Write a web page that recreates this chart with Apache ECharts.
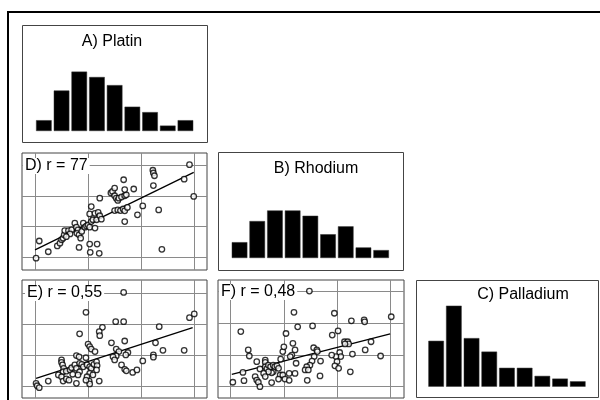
<!DOCTYPE html>
<html>
<head>
<meta charset="utf-8">
<script src="https://cdn.jsdelivr.net/npm/echarts@6/dist/echarts.min.js"></script>
<style>html,body{margin:0;padding:0;background:#fff;}#c{width:600px;height:400px;}</style>
</head>
<body>
<div id="c"></div>
<script>
// ---- data ----
const histCats = ['1','2','3','4','5','6','7','8','9'];
const platinCounts = [4, 15, 22, 20, 17, 9, 7, 2, 4];
const rhodiumCounts = [6, 14, 18, 18, 16, 9, 12, 4, 3];
const palladiumCounts = [17, 30, 18, 13, 7, 7, 4, 3, 2];
const gridTicks = [0, 10, 20, 30];
const panelTitles = ['A) Platin', 'B) Rhodium', 'C) Palladium'];
const rLabels = ['D) r = 77', 'E) r = 0,55', 'F) r = 0,48'];

// D: Platin (x) vs Rhodium (y)
const platinRhodium = [
[0.2,-0.3],[0.8,5.3],[2.5,1.8],[4.2,3.7],[4.7,4.6],[5.0,5.7],[5.3,6.2],[5.5,7.3],[5.6,8.7],[6.3,8.7],
[6.9,8.9],[6.6,7.6],[5.9,6.7],[7.5,11.1],[7.8,9.8],[8.1,8.9],[7.9,7.8],[8.3,7.3],[8.8,8.4],[8.6,6.2],
[8.3,3.2],[9.1,11.1],[9.4,9.8],[9.7,10.2],[10.0,10.5],[10.3,9.8],[10.6,11.6],[10.9,12.2],[11.3,9.5],[11.6,12.2],
[10.3,14.1],[10.6,16.5],[11.3,14.3],[11.9,14.6],[12.2,13.5],[12.5,12.4],[10.3,4.3],[10.4,1.6],[11.7,4.3],[12.1,1.3],
[12.2,19.2],[14.3,20.9],[14.6,21.4],[15.0,20.0],[15.3,19.2],[15.6,18.5],[15.0,22.5],[15.8,19.2],[16.3,19.6],[16.9,20.0],
[17.2,20.3],[16.9,22.0],[16.7,25.2],[18.6,22.2],[15.0,15.2],[15.6,15.4],[16.1,15.2],[16.6,15.7],[16.9,15.1],[17.4,16.2],
[16.9,11.6],[19.3,13.8],[20.3,16.7],[23.3,15.4],[22.2,28.3],[22.3,27.4],[22.5,26.5],[22.3,23.3],[23.9,2.6],[28.1,25.4],
[29.1,30.1],[29.9,19.8]
];
// E: Platin (x) vs Palladium (y)
const platinPalladium = [
[16.7,30.3],[9.6,23.9],[15.2,20.9],[16.7,20.9],[12.7,19.1],[12.1,17.7],[12.2,16.4],[8.4,17.0],[23.4,19.3],[29.1,22.2],
[30.0,23.4],[14.4,14.1],[16.9,14.7],[10.0,13.7],[10.3,12.9],[10.6,12.1],[11.3,11.3],[15.3,12.1],[15.8,11.3],[17.5,11.0],
[17.1,10.2],[15.3,9.9],[14.7,9.6],[15.0,8.6],[7.8,10.0],[8.3,9.6],[9.6,9.3],[22.7,14.1],[24.1,11.7],[22.3,10.2],
[22.3,9.5],[20.3,8.3],[28.1,11.7],[5.0,8.6],[5.0,7.8],[5.2,7.0],[5.4,5.9],[5.3,4.8],[5.9,5.0],[6.6,5.4],
[6.9,6.1],[7.5,7.0],[7.8,5.9],[8.4,7.5],[8.8,7.2],[9.1,6.4],[8.4,4.8],[8.1,3.8],[9.8,7.0],[10.3,6.4],
[10.6,5.9],[11.1,7.2],[11.6,8.0],[11.7,6.8],[11.6,5.4],[10.3,4.3],[10.9,3.8],[9.8,3.2],[10.2,1.8],[10.3,0.9],
[9.6,2.1],[12.1,1.8],[7.8,1.1],[4.4,3.8],[5.0,3.2],[5.3,1.8],[5.9,2.5],[6.4,2.1],[7.1,4.0],[2.5,1.8],
[0.2,1.1],[0.4,0.3],[0.8,-0.3],[16.3,7.0],[16.9,5.6],[17.2,5.1],[18.4,4.6],[19.2,5.4]
];
// F: Rhodium (x) vs Palladium (y)
const rhodiumPalladium = [
[14.8,30.2],[11.9,23.5],[19.5,23.2],[22.7,20.8],[25.1,21.1],[25.2,20.5],[30.2,22.1],[12.6,18.9],[15.4,19.2],[1.9,17.4],
[10.4,16.8],[20.2,17.6],[19.1,16.3],[3.3,11.6],[3.5,9.7],[9.8,11.1],[10.0,12.6],[11.7,13.7],[12.1,11.6],[11.5,10.0],
[11.2,9.5],[12.3,7.4],[9.4,8.7],[15.6,12.3],[16.2,11.6],[16.3,11.1],[15.7,9.5],[16.9,8.1],[15.3,8.1],[14.9,6.8],
[14.3,6.3],[14.0,5.3],[14.6,5.3],[21.4,14.2],[22.0,14.2],[22.2,13.5],[21.5,13.5],[26.4,14.2],[25.3,11.6],[22.9,10.3],
[20.5,10.8],[20.7,9.5],[19.8,9.5],[19.0,10.0],[20.0,7.9],[19.6,6.6],[20.3,5.8],[22.5,4.7],[28.2,9.7],[4.9,7.9],
[6.5,8.4],[6.5,7.7],[5.5,5.6],[6.5,6.3],[6.8,5.6],[7.1,6.8],[7.5,6.3],[8.0,6.8],[8.3,6.3],[8.7,6.6],
[9.0,5.8],[8.0,4.7],[7.7,4.4],[7.1,4.7],[6.2,4.2],[9.3,3.7],[2.3,4.5],[0.4,1.4],[2.5,1.9],[4.6,3.2],
[4.9,2.1],[5.2,1.4],[5.5,0.0],[6.5,3.2],[7.7,1.3],[9.0,2.4],[9.8,3.7],[10.2,2.4],[11.0,2.0],[12.1,4.2],
[14.4,2.0],[16.8,3.4],[11.0,4.2]
];
// regression line end points
const fitD = [[0, 2.4], [29.9, 27.6]];
const fitE = [[0.2, 2.7], [29.7, 19.0]];
const fitF = [[0.2, 3.9], [30.0, 16.7]];

// ---- layout ----
const FONT = '16px "Liberation Sans", Arial, sans-serif';
const GRIDC = '#8a8a8a';
const BORDER = '#444';

const chart = echarts.init(document.getElementById('c'), null, {renderer: 'canvas'});

const grids = [
  {left: 35, top: 50, width: 159.3, height: 81},
  {left: 230.7, top: 178.8, width: 159.3, height: 79.2},
  {left: 427.3, top: 305.7, width: 159.3, height: 81},
  {left: 22, top: 153, width: 185, height: 117, show: true, borderColor: BORDER, borderWidth: 1},
  {left: 22, top: 280, width: 185, height: 118, show: true, borderColor: BORDER, borderWidth: 1},
  {left: 218, top: 280, width: 186, height: 118, show: true, borderColor: BORDER, borderWidth: 1}
];

const xAxes = [], yAxes = [];
for (let i = 0; i < 3; i++) {
  xAxes.push({type: 'category', gridIndex: i, data: histCats, show: false});
  yAxes.push({type: 'value', gridIndex: i, min: 0, max: 30, show: false});
}
const scatterRanges = [
  {x: [-2.45, 32.4], y: [-4.13, 33.9]},
  {x: [-2.45, 32.4], y: [-3.63, 34.3]},
  {x: [-2.39, 32.6], y: [-3.57, 33.7]}
];
scatterRanges.forEach((r, k) => {
  xAxes.push({type: 'value', gridIndex: 3 + k, min: r.x[0], max: r.x[1], show: false, splitLine: {show: false}});
  yAxes.push({type: 'value', gridIndex: 3 + k, min: r.y[0], max: r.y[1], show: false, splitLine: {show: false}});
});

const series = [];
[platinCounts, rhodiumCounts, palladiumCounts].forEach((d, i) => {
  series.push({type: 'bar', xAxisIndex: i, yAxisIndex: i, data: d, barWidth: 15.6,
    itemStyle: {color: '#000', borderColor: '#333', borderWidth: 0.5}, silent: true});
});
const gridLineData = gridTicks.map(v => ({xAxis: v})).concat(gridTicks.map(v => ({yAxis: v})));
[[platinRhodium, fitD], [platinPalladium, fitE], [rhodiumPalladium, fitF]].forEach((p, k) => {
  const ai = 3 + k;
  series.push({type: 'line', xAxisIndex: ai, yAxisIndex: ai, data: p[1], symbol: 'none', z: 2,
    lineStyle: {color: '#000', width: 1.3}, silent: true, animation: false,
    markLine: {silent: true, symbol: 'none', label: {show: false}, animation: false,
      lineStyle: {color: GRIDC, width: 1, type: 'solid'}, data: gridLineData, z: 1}});
  series.push({type: 'scatter', xAxisIndex: ai, yAxisIndex: ai, data: p[0], symbol: 'circle', symbolSize: 5.5, z: 3,
    itemStyle: {color: '#fff', borderColor: '#000', borderWidth: 1.3}, silent: true});
});

const graphic = [
  {type: 'rect', shape: {x: 8, y: 12, width: 610, height: 410}, style: {fill: 'none', stroke: '#000', lineWidth: 2}},
  {type: 'rect', shape: {x: 22.5, y: 25.5, width: 185, height: 117}, style: {fill: 'none', stroke: BORDER, lineWidth: 1}},
  {type: 'rect', shape: {x: 218.5, y: 152.5, width: 185, height: 118}, style: {fill: 'none', stroke: BORDER, lineWidth: 1}},
  {type: 'rect', shape: {x: 416.5, y: 280.5, width: 182, height: 117}, style: {fill: 'none', stroke: BORDER, lineWidth: 1}},
  {type: 'text', x: 112, y: 42, z: 100, style: {text: panelTitles[0], font: FONT, fill: '#000', textAlign: 'center', textVerticalAlign: 'middle'}},
  {type: 'text', x: 316, y: 169, z: 100, style: {text: panelTitles[1], font: FONT, fill: '#000', textAlign: 'center', textVerticalAlign: 'middle'}},
  {type: 'text', x: 523, y: 295, z: 100, style: {text: panelTitles[2], font: FONT, fill: '#000', textAlign: 'center', textVerticalAlign: 'middle'}},
  {type: 'text', x: 23, y: 166, z: 100, style: {text: rLabels[0], font: FONT, fill: '#000', textVerticalAlign: 'middle', backgroundColor: '#fff', padding: [0, 2]}},
  {type: 'text', x: 25, y: 293, z: 100, style: {text: rLabels[1], font: FONT, fill: '#000', textVerticalAlign: 'middle', backgroundColor: '#fff', padding: [0, 2]}},
  {type: 'text', x: 219, y: 292, z: 100, style: {text: rLabels[2], font: FONT, fill: '#000', textVerticalAlign: 'middle', backgroundColor: '#fff', padding: [0, 2]}}
];

chart.setOption({
  animation: false,
  backgroundColor: '#fff',
  grid: grids,
  xAxis: xAxes,
  yAxis: yAxes,
  series: series,
  graphic: graphic
});
</script>
</body>
</html>
